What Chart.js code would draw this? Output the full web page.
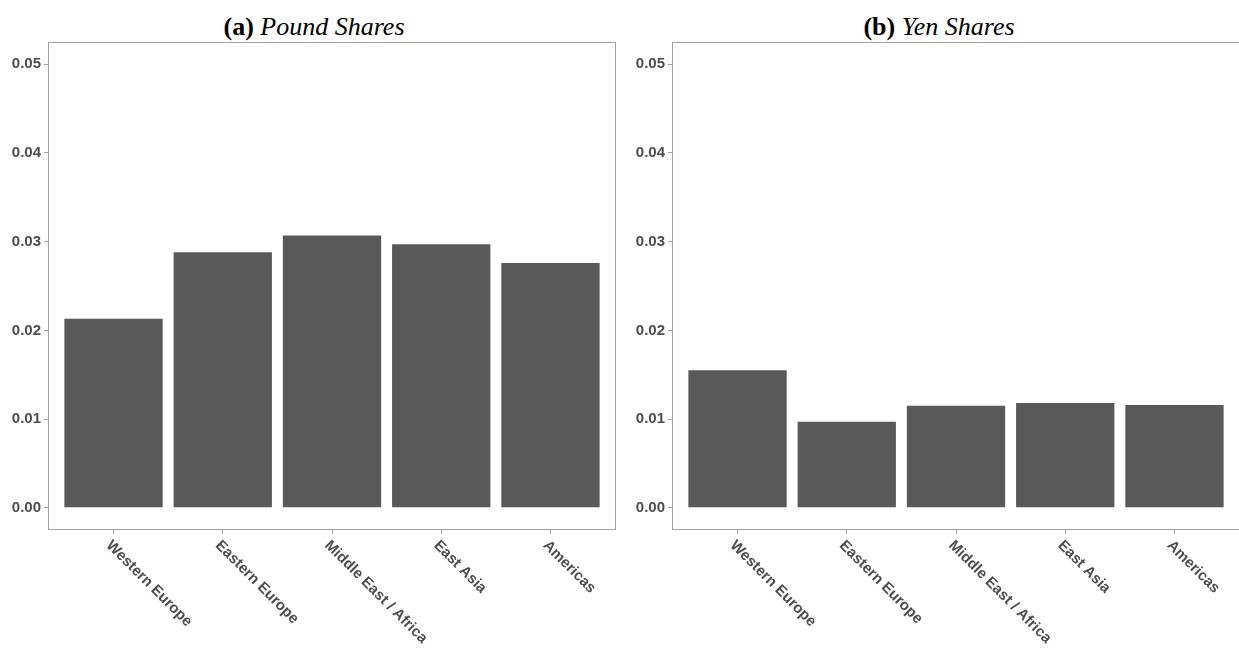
<!DOCTYPE html>
<html>
<head>
<meta charset="utf-8">
<script src="https://cdn.jsdelivr.net/npm/chart.js@4"></script>
<style>
  body { margin: 0; width: 1239px; height: 650px; overflow: hidden; background: #fff; position: relative; }
  canvas { position: absolute; top: 0; }
  .title { position: absolute; top: 12px; width: 400px; text-align: center; font-family: "Liberation Serif", serif; font-size: 26px; color: #000; }
</style>
</head>
<body>
<div class="title" style="left:114px"><b>(a)</b> <i>Pound Shares</i></div>
<div class="title" style="left:739px"><b>(b)</b> <i>Yen Shares</i></div>
<canvas id="poundChart" width="622" height="650" style="left:0"></canvas>
<canvas id="yenChart" width="620" height="650" style="left:624px"></canvas>
<script>
// data
const regions = ["Western Europe", "Eastern Europe", "Middle East / Africa", "East Asia", "Americas"];
const poundShares = [0.0213, 0.0288, 0.0307, 0.0297, 0.0276];
const yenShares = [0.0155, 0.0097, 0.0115, 0.0118, 0.0116];
const yTicks = [0, 0.01, 0.02, 0.03, 0.04, 0.05];

const textColor = "#4d4d4d";
const lineColor = "#a0a0a0";
const barColor = "#595959";

// box round the panel + rotated region labels
const panelPlugin = {
  id: "panel",
  afterDraw(chart) {
    const ctx = chart.ctx;
    const a = chart.chartArea;
    ctx.save();
    ctx.strokeStyle = lineColor;
    ctx.lineWidth = 1;
    ctx.strokeRect(a.left + 0.5, a.top + 0.5, a.right - a.left - 1, a.bottom - a.top - 1);

    const xs = chart.scales.x;
    ctx.fillStyle = textColor;
    ctx.font = "bold 15px 'Liberation Sans', Arial, sans-serif";
    ctx.textAlign = "left";
    ctx.textBaseline = "alphabetic";
    regions.forEach((r, i) => {
      const x = xs.getPixelForValue(i);
      ctx.save();
      ctx.translate(x - 8, a.bottom + 16);
      ctx.rotate(Math.PI / 4);
      ctx.fillText(r, 0, 0);
      ctx.restore();
    });
    ctx.restore();
  }
};

function makeChart(id, values, padRight) {
  const ctx = document.getElementById(id).getContext("2d");
  return new Chart(ctx, {
    type: "bar",
    data: {
      datasets: [{
        data: values.map((v, i) => ({ x: i, y: v })),
        backgroundColor: barColor,
        borderWidth: 0,
        categoryPercentage: 0.9,
        barPercentage: 1
      }]
    },
    options: {
      responsive: false,
      animation: false,
      layout: { padding: { top: 42, right: padRight, bottom: 0, left: 0 } },
      plugins: { legend: { display: false }, tooltip: { enabled: false } },
      scales: {
        x: {
          type: "linear",
          offset: false,
          min: -0.6,
          max: 4.6,
          afterBuildTicks: s => { s.ticks = regions.map((r, i) => ({ value: i })); },
          afterFit: s => { s.height = 120; },
          ticks: { display: false },
          grid: { offset: false, drawOnChartArea: false, drawTicks: true, tickLength: 4, color: lineColor },
          border: { display: false }
        },
        y: {
          min: -0.0025,
          max: 0.0525,
          afterBuildTicks: s => { s.ticks = yTicks.map(v => ({ value: v })); },
          afterFit: s => { s.width = 48; },
          ticks: {
            padding: 3,
            color: textColor,
            font: { family: "'Liberation Sans', Arial, sans-serif", size: 15, weight: "bold" },
            callback: v => v.toFixed(2)
          },
          grid: { drawOnChartArea: false, drawTicks: true, tickLength: 4, color: lineColor },
          border: { display: false }
        }
      }
    },
    plugins: [panelPlugin]
  });
}

makeChart("poundChart", poundShares, 6);
makeChart("yenChart", yenShares, 4);
</script>
</body>
</html>
